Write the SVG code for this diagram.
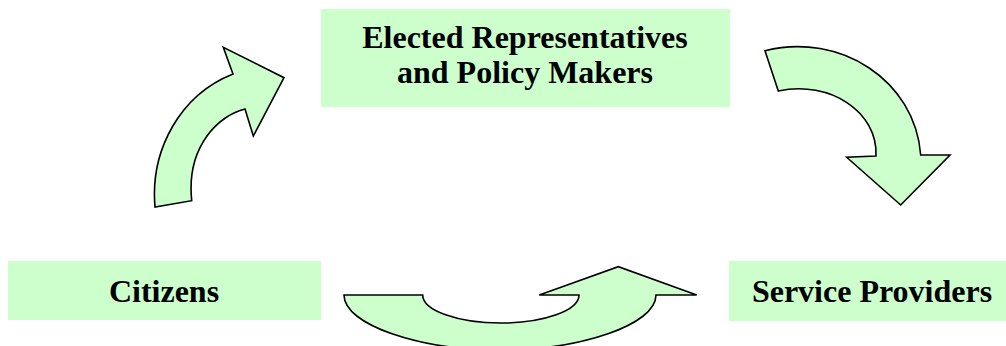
<svg xmlns="http://www.w3.org/2000/svg" width="1006" height="346" viewBox="0 0 1006 346">
<style>
.box{fill:#CCFFCC;stroke:none}
.lbl{font-family:"Liberation Serif","Times New Roman",serif;font-weight:bold;font-size:32px;fill:#000;text-anchor:middle}
.arr{fill:#CCFFCC;stroke:#000;stroke-width:1.6;stroke-linejoin:miter}
</style>
<rect width="1006" height="346" fill="#fff"/>
<g id="connectors">
<path class="arr" d="M155,207 C150,150 180,95 233,74 L223.3,47.3 L284,77.7 L253.3,136 L245,109 C220,115 186,145 191.7,200.7 Z"/>
<path class="arr" d="M765,50.7 C840,32 915,80 920.7,155 L950,155 L900.7,205 L846.7,157.3 L876,156 C878,112 830,80 778.3,91 Z"/>
<path class="arr" d="M344,295 L422.7,295 A78,28 0 0 0 579,295 L539.3,295 L618.3,266.7 L696.7,295 L656,295 C656,325 580,350 500,350 C420,350 344,325 344,295 Z"/>
</g>
<g id="node-representatives">
<rect class="box" x="321" y="9" width="409" height="98"/>
<text class="lbl" x="525" y="48">Elected Representatives</text>
<text class="lbl" x="525" y="83">and Policy Makers</text>
</g>
<g id="node-citizens">
<rect class="box" x="8" y="261" width="313" height="59"/>
<text class="lbl" x="164" y="302">Citizens</text>
</g>
<g id="node-providers">
<rect class="box" x="729" y="261" width="277" height="60"/>
<text class="lbl" x="872" y="302">Service Providers</text>
</g>
</svg>
